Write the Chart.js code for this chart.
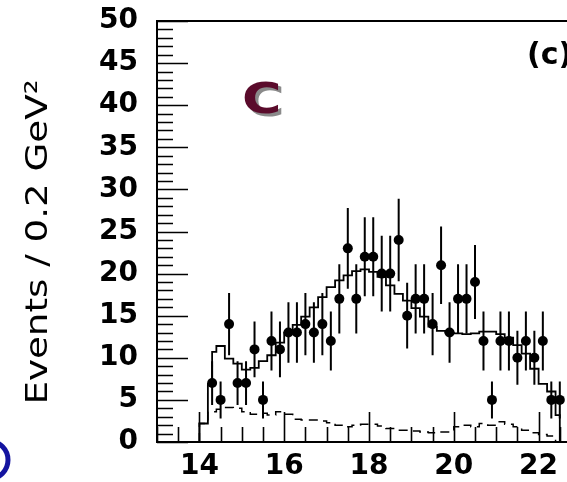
<!DOCTYPE html>
<html>
<head>
<meta charset="utf-8">
<script src="https://cdn.jsdelivr.net/npm/chart.js@4/dist/chart.umd.min.js"></script>
<style>
  html, body { margin: 0; padding: 0; background: #fff; overflow: hidden; }
  #wrap { width: 600px; height: 482px; }
</style>
</head>
<body>
<div id="wrap"><canvas id="massChart" width="600" height="482"></canvas></div>
<script>
// data points: bin centres (GeV^2), counts and errors
const binCenters = [14.3, 14.5, 14.7, 14.9, 15.1, 15.3, 15.5, 15.7, 15.9, 16.1,
                    16.3, 16.5, 16.7, 16.9, 17.1, 17.3, 17.5, 17.7, 17.9, 18.1,
                    18.3, 18.5, 18.7, 18.9, 19.1, 19.3, 19.5, 19.7, 19.9, 20.1,
                    20.3, 20.5, 20.7, 20.9, 21.1, 21.3, 21.5, 21.7, 21.9, 22.1,
                    22.3, 22.5];
const counts = [7, 5, 14, 7, 7, 11, 5, 12, 11, 13,
                13, 14, 13, 14, 12, 17, 23, 17, 22, 22,
                20, 20, 24, 15, 17, 17, 14, 21, 13, 17,
                17, 19, 12, 5, 12, 12, 10, 12, 10, 12,
                5, 5];
const countErrors = [2.6, 2.2, 3.7, 2.6, 2.6, 3.3, 2.2, 3.5, 3.3, 3.6,
                     3.6, 3.7, 3.6, 3.7, 3.5, 4.1, 4.8, 4.1, 4.7, 4.7,
                     4.5, 4.5, 4.9, 3.9, 4.1, 4.1, 3.7, 4.6, 3.6, 4.1,
                     4.1, 4.4, 3.5, 2.2, 3.5, 3.5, 3.2, 3.5, 3.2, 3.5,
                     2.2, 2.2];

// total fit histogram (solid)
const fitEdges = [14.0, 14.2, 14.3, 14.4, 14.6, 14.8, 15.0, 15.2, 15.4, 15.6,
                  15.8, 16.0, 16.2, 16.4, 16.6, 16.8, 17.0, 17.2, 17.4, 17.6,
                  17.8, 18.0, 18.2, 18.4, 18.6, 18.8, 19.0, 19.2, 19.4, 19.6,
                  19.8, 20.0, 20.2, 20.4, 20.6, 20.8, 21.0, 21.2, 21.4, 21.6,
                  21.8, 22.0, 22.2, 22.4, 22.5, 22.6];
const fitValues = [0.9, 2.2, 6.9, 10.7, 11.4, 9.9, 9.3, 8.6, 8.8, 9.6,
                   10.3, 11.8, 13.0, 13.9, 14.9, 16.0, 17.2, 18.4, 19.2, 19.8,
                   20.3, 20.5, 20.2, 19.6, 18.6, 17.6, 16.8, 15.9, 14.9, 13.7,
                   13.2, 13.0, 12.9, 12.8, 12.9, 13.1, 13.1, 12.8, 12.4, 11.5,
                   10.5, 8.7, 6.9, 6.0, 3.2];

// background histogram (dashed)
const bkgEdges = [14.0, 14.2, 14.4, 14.6, 14.8, 15.0, 15.2, 15.4, 15.6, 15.8,
                  16.0, 16.2, 16.4, 16.6, 16.8, 17.0, 17.2, 17.4, 17.6, 17.8,
                  18.0, 18.2, 18.4, 18.6, 18.8, 19.0, 19.2, 19.4, 19.6, 19.8,
                  20.0, 20.2, 20.4, 20.6, 20.8, 21.0, 21.2, 21.4, 21.6, 21.8,
                  22.0, 22.2, 22.4, 22.6];
const bkgValues = [0.6, 2.2, 3.6, 3.9, 4.1, 4.0, 3.6, 3.3, 3.4, 3.2,
                   3.6, 3.3, 2.7, 2.6, 2.6, 2.5, 2.3, 2.0, 1.8, 2.0,
                   2.1, 2.1, 1.9, 1.6, 1.4, 1.4, 1.3, 1.2, 1.1, 1.2,
                   1.2, 1.8, 2.0, 1.8, 2.2, 2.0, 2.4, 2.1, 1.8, 1.4,
                   1.1, 0.9, 0.7];

const xLabels = [14, 16, 18, 20, 22];
const yLabels = [0, 5, 10, 15, 20, 25, 30, 35, 40, 45, 50];

// turn edges + contents into a closed step outline
function stepPoints(edges, values) {
  const pts = [{ x: edges[0], y: 0 }];
  values.forEach((v, i) => pts.push({ x: edges[i], y: v }));
  pts.push({ x: edges[edges.length - 1], y: 0 });
  return pts;
}

const frameAndText = {
  id: 'frameAndText',
  afterDatasetsDraw(chart) {
    const { ctx, chartArea: a, scales: { x, y } } = chart;
    // error bars
    ctx.save();
    ctx.beginPath();
    ctx.rect(a.left, a.top, a.right - a.left, a.bottom - a.top);
    ctx.clip();
    ctx.strokeStyle = '#000';
    ctx.lineWidth = 2;
    ctx.beginPath();
    binCenters.forEach((c, i) => {
      const px = x.getPixelForValue(c);
      ctx.moveTo(px, y.getPixelForValue(counts[i] - countErrors[i]));
      ctx.lineTo(px, y.getPixelForValue(counts[i] + countErrors[i]));
    });
    ctx.stroke();
    ctx.restore();
  },
  afterDraw(chart) {
    const { ctx, chartArea: a, scales: { x, y } } = chart;
    ctx.save();
    ctx.strokeStyle = '#000';
    ctx.lineWidth = 2;
    ctx.strokeRect(a.left, a.top, a.right - a.left, a.bottom - a.top);

    // ticks point into the frame
    ctx.lineWidth = 1.6;
    ctx.beginPath();
    y.ticks.forEach(t => {
      const py = Math.round(y.getPixelForValue(t.value)) + 0.5;
      const len = yLabels.includes(t.value) ? 31 : 16;
      ctx.moveTo(a.left, py);
      ctx.lineTo(a.left + len, py);
    });
    x.ticks.forEach(t => {
      const px = Math.round(x.getPixelForValue(t.value)) + 0.5;
      const len = xLabels.includes(t.value) ? 30 : 15;
      ctx.moveTo(px, a.bottom);
      ctx.lineTo(px, a.bottom - len);
    });
    ctx.stroke();

    // y axis title
    ctx.save();
    ctx.translate(47, 242);
    ctx.rotate(-Math.PI / 2);
    ctx.scale(1.2, 1);
    ctx.fillStyle = '#000';
    ctx.font = '31px "DejaVu Sans"';
    ctx.textAlign = 'center';
    ctx.textBaseline = 'alphabetic';
    ctx.fillText('Events / 0.2 GeV²', 0, 0);
    ctx.restore();

    // panel letters
    ctx.font = 'bold 30px "DejaVu Sans"';
    ctx.fillStyle = '#000';
    ctx.textAlign = 'left';
    ctx.fillText('(c)', 527, 64);

    ctx.save();
    ctx.translate(242, 113);
    ctx.scale(1.25, 1);
    ctx.font = 'bold 43px "DejaVu Sans"';
    ctx.fillStyle = '#8a8a8a';
    ctx.fillText('C', 2.5, 2.5);
    ctx.fillStyle = '#5a0b2b';
    ctx.fillText('C', 0, 0);
    ctx.restore();

    // blue ring at the corner
    ctx.strokeStyle = '#1414a0';
    ctx.lineWidth = 5;
    ctx.beginPath();
    ctx.arc(-11, 460, 19, 0, Math.PI * 2);
    ctx.stroke();
    ctx.restore();
  }
};

Chart.defaults.font.family = '"DejaVu Sans"';
Chart.defaults.color = '#000';

const massChart = new Chart(document.getElementById('massChart').getContext('2d'), {
  type: 'scatter',
  data: {
    datasets: [
      {
        label: 'fit',
        type: 'line',
        data: stepPoints(fitEdges, fitValues),
        stepped: 'after',
        borderColor: '#000',
        borderWidth: 1.8,
        pointRadius: 0,
        fill: false
      },
      {
        label: 'background',
        type: 'line',
        data: stepPoints(bkgEdges, bkgValues),
        stepped: 'after',
        borderColor: '#000',
        borderWidth: 1.5,
        borderDash: [9, 6],
        pointRadius: 0,
        fill: false
      },
      {
        label: 'data',
        data: binCenters.map((c, i) => ({ x: c, y: counts[i] })),
        backgroundColor: '#000',
        borderWidth: 0,
        pointRadius: 5
      }
    ]
  },
  options: {
    responsive: false,
    animation: false,
    events: [],
    layout: { padding: { top: 21, right: 19, left: 0, bottom: 0 } },
    plugins: { legend: { display: false }, tooltip: { enabled: false } },
    scales: {
      x: {
        type: 'linear',
        min: 13,
        max: 23,
        grid: { display: false, drawTicks: false },
        border: { display: false },
        afterFit: s => { s.height = 40; s.paddingLeft = 0; s.paddingRight = 0; },
        ticks: {
          stepSize: 0.5,
          autoSkip: false,
          maxRotation: 0,
          padding: 8,
          font: { size: 28, weight: 'bold' },
          callback: v => xLabels.includes(v) ? String(v) : ''
        }
      },
      y: {
        min: 0,
        max: 50,
        grid: { display: false, drawTicks: false },
        border: { display: false },
        afterFit: s => { s.width = 157; s.paddingTop = 0; s.paddingBottom = 0; },
        ticks: {
          stepSize: 1,
          autoSkip: false,
          padding: 19,
          font: { size: 28, weight: 'bold' },
          callback: v => yLabels.includes(v) ? String(v) : ''
        }
      }
    }
  },
  plugins: [frameAndText]
});
</script>
</body>
</html>
